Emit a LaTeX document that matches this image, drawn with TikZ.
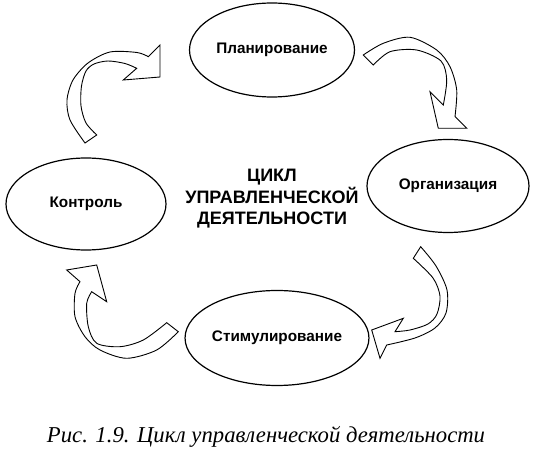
\documentclass[tikz,border=0pt]{standalone}
\usepackage{fontspec}
\setmainfont{Liberation Serif}
\newfontfamily\labfont{Liberation Sans}
\usetikzlibrary{shapes.geometric}
\tikzset{
  ell/.style={ellipse, draw, line width=1.2pt, inner sep=0pt,
    font=\labfont\bfseries\fontsize{15.3}{17}\selectfont},
  barrow/.style={draw, fill=white, line width=0.9pt, line join=miter},
  title/.style={align=center, font=\labfont\bfseries\fontsize{18}{21.5}\selectfont},
  caption/.style={font=\itshape\fontsize{22.7}{26}\selectfont}
}
\begin{document}
\begin{tikzpicture}[x=1pt,y=-1pt]
\useasboundingbox (0,0) rectangle (536,454);
% ellipses
\node[ell, minimum width=165pt, minimum height=94pt] (plan) at (272,50) {Планирование};
\node[ell, minimum width=162pt, minimum height=93pt] (org) at (448,186) {Организация};
\node[ell, minimum width=160pt, minimum height=92pt] (ctrl) at (86,204) {Контроль};
\node[ell, minimum width=169pt, minimum height=95pt] (stim) at (277,338) {Стимулирование};
% centre title
\node[title] (cycle) at (272,199) {ЦИКЛ\\УПРАВЛЕНЧЕСКОЙ\\ДЕЯТЕЛЬНОСТИ};
% caption
\node[caption] (cap) at (266,437) {Рис. 1.9. Цикл управленческой деятельности};
% curved block arrows
% Контроль -> Планирование
\path[barrow] plot[smooth] coordinates {(85,143) (70,120) (67,100) (73,80) (88,63) (110,52) (137,52.5) (148.3,56.7)}
  -- (160,45) -- (160,77) -- (123.3,80)
  -- plot[smooth] coordinates {(136.7,68.3) (125,63.5) (108,61) (94,64) (86,71) (81.5,86) (81,106) (86,123) (96.7,135)}
  -- cycle;
% Планирование -> Организация
\path[barrow] plot[smooth] coordinates {(363.3,55) (383.3,43.3) (410,37.3) (436.7,50) (450,66.7) (456.7,90) (455,116.6)}
  -- (466.7,128.3) -- (438.3,128.3) -- (430,91.7)
  -- plot[smooth] coordinates {(443.3,105) (446.7,80) (441,61) (416.7,50) (390,51.7) (373.3,65)}
  -- cycle;
% Организация -> Стимулирование
\path[barrow] plot[smooth] coordinates {(420.7,246.7) (436,266) (447,290) (446,313) (435,328) (415,338) (386.7,345)}
  -- (380,358.3) -- (371.7,330) -- (403.3,318.3)
  -- plot[smooth] coordinates {(395,331.7) (410,330) (428,324) (437,314) (440,296) (433,278) (413.3,258.3)}
  -- cycle;
% Стимулирование -> Контроль
\path[barrow] plot[smooth] coordinates {(178.3,331.7) (156.7,350) (126.7,358.3) (100,350) (85,336.7) (75,316.7) (75,293.3) (80,281.7)}
  -- (66.7,270) -- (96.7,265) -- (106.7,301.7)
  -- plot[smooth] coordinates {(91.7,291.7) (86.7,303.3) (88.3,326.7) (96.7,343.3) (120,346.7) (143.3,340) (166.7,322.7)}
  -- cycle;
\end{tikzpicture}
\end{document}
